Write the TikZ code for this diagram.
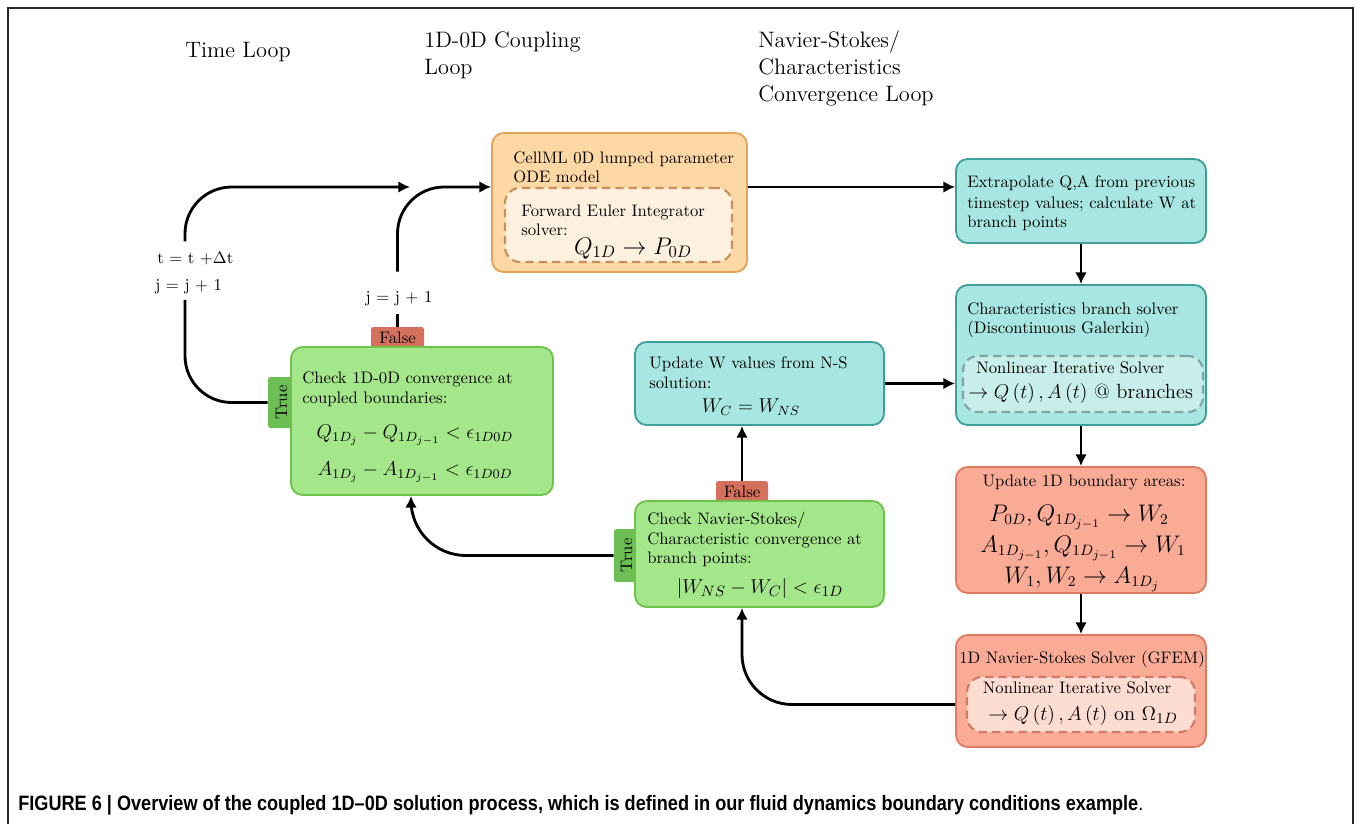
\documentclass[tikz,border=0pt]{standalone}
\usepackage{fontspec}
\newfontfamily\capfont{Liberation Sans}
\usetikzlibrary{arrows.meta,fit,calc}

\definecolor{tealfill}{HTML}{A8E6E2}
\definecolor{tealline}{HTML}{3F9F99}
\definecolor{tealin}{HTML}{C8EEEB}
\definecolor{tealdash}{HTML}{7FA6A4}
\definecolor{greenfill}{HTML}{A4E68A}
\definecolor{greenline}{HTML}{6CC24A}
\definecolor{orangefill}{HTML}{FDD8A4}
\definecolor{orangeline}{HTML}{E3A455}
\definecolor{orangein}{HTML}{FEF0DE}
\definecolor{orangedash}{HTML}{C8905A}
\definecolor{redfill}{HTML}{FAAB95}
\definecolor{redline}{HTML}{DE7B63}
\definecolor{redin}{HTML}{FDDCD2}
\definecolor{reddash}{HTML}{D07A68}
\definecolor{falsefill}{HTML}{D4705C}
\definecolor{truefill}{HTML}{6DBF55}

\tikzset{
  box/.style={draw, line width=1.1pt, rounded corners=7pt, inner sep=0pt},
  inbox/.style={draw, dash pattern=on 5pt off 3pt, line width=1.3pt, rounded corners=9pt, inner sep=0pt},
  txt/.style={anchor=base west, inner sep=0pt, font=\fontsize{10}{12}\selectfont},
  ctr/.style={anchor=base, inner sep=0pt, font=\fontsize{10}{12}\selectfont},
  head/.style={anchor=base west, inner sep=0pt, font=\fontsize{13.4}{16}\selectfont},
  link/.style={line width=1.7pt, -{Latex[length=7pt,width=7pt]}},
  plain/.style={line width=1.7pt},
  tagF/.style={fill=falsefill, rounded corners=1.5pt, inner sep=0pt},
  tagT/.style={fill=truefill, rounded corners=1.5pt, inner sep=0pt},
}

\begin{document}
\begin{tikzpicture}[x=0.6pt,y=-0.6pt]
\useasboundingbox (0,0) rectangle (1356,824);

% outer frame
\draw[line width=0.9pt, black!85] (8,824) -- (8,8) -- (1353,8) -- (1353,824);

% loop headings
\node[head] (hTime) at (185,57) {Time Loop};
\node[head] (hCoup1) at (424,47) {1D-0D Coupling};
\node[head] (hCoup2) at (424,74) {Loop};
\node[head] (hNS1) at (758,47) {Navier-Stokes/};
\node[head] (hNS2) at (758,74) {Characteristics};
\node[head] (hNS3) at (758,101) {Convergence Loop};

% tags (drawn first so the boxes cover their lower edges)
\node[tagF, fit={(371,327) (424,350)}] (g1false) {};
\node[ctr] at ($(g1false.center)+(0,5)$) {False};
\node[tagT, fit={(268,377) (293,428)}] (g1true) {};
\node[inner sep=0pt, rotate=90, font=\fontsize{10}{12}\selectfont] at ($(g1true.center)+(1,0)$) {True};
\node[tagF, fit={(716,481) (768,503)}] (g2false) {};
\node[ctr] at ($(g2false.center)+(0,5)$) {False};
\node[tagT, fit={(614,529) (637,582)}] (g2true) {};
\node[inner sep=0pt, rotate=90, font=\fontsize{10}{12}\selectfont] at ($(g2true.center)+(1,0)$) {True};

% CellML 0D model
\node[box, fill=orangefill, draw=orangeline, fit={(492,133) (747,272)}] (orange) {};
\node[inbox, fill=orangein, draw=orangedash, fit={(505,188) (732,262)}] (orangein) {};
\node[txt] at (513,163) {CellML 0D lumped parameter};
\node[txt] at (513,182) {ODE model};
\node[txt] at (521,216) {Forward Euler Integrator};
\node[txt] at (521,235) {solver:};
\node[ctr, font=\fontsize{14.2}{16}\selectfont] at (633,254) {$Q_{1D}\rightarrow P_{0D}$};

% extrapolation
\node[box, fill=tealfill, draw=tealline, fit={(956,159) (1206,243)}] (teal1) {};
\node[txt] at (967,187) {Extrapolate Q,A from previous};
\node[txt] at (967,208) {timestep values; calculate W at};
\node[txt] at (967,227) {branch points};

% characteristics branch solver
\node[box, fill=tealfill, draw=tealline, fit={(956,285) (1206,425)}] (teal2) {};
\node[inbox, fill=tealin, draw=tealdash, fit={(963,356) (1203,412)}] (teal2in) {};
\node[txt] at (967,314) {Characteristics branch solver};
\node[txt] at (967,333) {(Discontinuous Galerkin)};
\node[txt] at (976,373) {Nonlinear Iterative Solver};
\node[txt, font=\fontsize{12.3}{14}\selectfont] at (968,398) {$\rightarrow Q\left(t\right), A\left(t\right)$ @ branches};

% boundary area update
\node[box, fill=redfill, draw=redline, fit={(956,467) (1206,593)}] (red1) {};
\node[ctr] at (1084,486) {Update 1D boundary areas:};
\node[ctr, font=\fontsize{13.5}{16}\selectfont] at (1079,521) {$P_{0D}, Q_{1D_{j-1}}\rightarrow W_2$};
\node[ctr, font=\fontsize{13.5}{16}\selectfont] at (1083,552) {$A_{1D_{j-1}}, Q_{1D_{j-1}}\rightarrow W_1$};
\node[ctr, font=\fontsize{13.5}{16}\selectfont] at (1082,583) {$W_1, W_2\rightarrow A_{1D_j}$};

% 1D Navier-Stokes solver
\node[box, fill=redfill, draw=redline, fit={(956,635) (1206,747)}] (red2) {};
\node[inbox, fill=redin, draw=reddash, fit={(967,677) (1195,732)}] (red2in) {};
\node[ctr] at (1082,663) {1D Navier-Stokes Solver (GFEM)};
\node[ctr] at (1077,693) {Nonlinear Iterative Solver};
\node[ctr, font=\fontsize{12.3}{14}\selectfont] at (1083,720) {$\rightarrow Q\left(t\right), A\left(t\right)$ on $\Omega_{1D}$};

% W update
\node[box, fill=tealfill, draw=tealline, fit={(635,342) (884,425)}] (teal3) {};
\node[txt] at (649,368) {Update W values from N-S};
\node[txt] at (649,388) {solution:};
\node[ctr, font=\fontsize{12}{14}\selectfont] at (751,412) {$W_C = W_{NS}$};

% N-S / characteristics convergence check
\node[box, fill=greenfill, draw=greenline, fit={(635,501) (884,607)}] (green2) {};
\node[txt] at (647,524) {Check Navier-Stokes/};
\node[txt] at (647,544) {Characteristic convergence at};
\node[txt] at (647,563) {branch points:};
\node[ctr, font=\fontsize{12.5}{14}\selectfont] at (760,593) {$\left|W_{NS}-W_C\right| < \epsilon_{1D}$};

% 1D-0D convergence check
\node[box, fill=greenfill, draw=greenline, fit={(291,347) (553,495)}] (green1) {};
\node[txt] at (302,383) {Check 1D-0D convergence at};
\node[txt] at (302,403) {coupled boundaries:};
\node[ctr, font=\fontsize{11.5}{14}\selectfont] at (415,438) {$Q_{1D_j}-Q_{1D_{j-1}}<\epsilon_{1D0D}$};
\node[ctr, font=\fontsize{11.5}{14}\selectfont] at (415,475) {$A_{1D_j}-A_{1D_{j-1}}<\epsilon_{1D0D}$};

% loop counters
\node[anchor=base west, inner sep=0pt, font=\fontsize{10}{12}\selectfont] (tlabA) at (157,263) {t = t +$\Delta$t};
\node[anchor=base west, inner sep=0pt, font=\fontsize{10}{12}\selectfont] (tlabB) at (155,290) {j = j + 1};
\node[ctr] (jlab) at (399,302) {j = j + 1};
\coordinate (tx) at (185,0);
\coordinate (tjoin) at (410,187);

% time loop
\draw[plain, rounded corners=28pt] (g1true.west) -| ($(tx |- tlabB.south)+(0,6)$);
\draw[link, rounded corners=28pt] ($(tx |- tlabA.north)+(0,-10)$) |- (tjoin);

% 1D-0D coupling loop
\draw[plain] (g1false.north) -- ($(g1false.north |- jlab.south)+(0,8)$);
\draw[link, rounded corners=28pt] ($(g1false.north |- jlab.north)+(0,-19)$) |- (orange.west |- tjoin);

% main chain
\draw[link] (orange.east |- tjoin) -- (teal1.west |- tjoin);
\draw[link] (teal1.south) -- (teal2.north);
\draw[link] (teal2.south) -- (red1.north);
\draw[link] (red1.south) -- (red2.north);
\draw[link, rounded corners=30pt] (red2.west |- red2in.west) -| (g2false |- green2.south);
\draw[link] (g2false.north) -- (g2false |- teal3.south);
\draw[link] (teal3.east) -- (teal3.east -| teal2.west);
\draw[link, rounded corners=33pt] (g2true.west) -| ($(green1.south)+(-11,0)$);

% caption
\node[anchor=base west, inner sep=0pt] (caption) at (18,810)
  {\scalebox{0.87}[1]{\capfont\fontsize{12.5}{14}\selectfont\textbf{FIGURE 6 | Overview of the coupled 1D–0D solution process, which is defined in our fluid dynamics boundary conditions example}.}};
\end{tikzpicture}
\end{document}
